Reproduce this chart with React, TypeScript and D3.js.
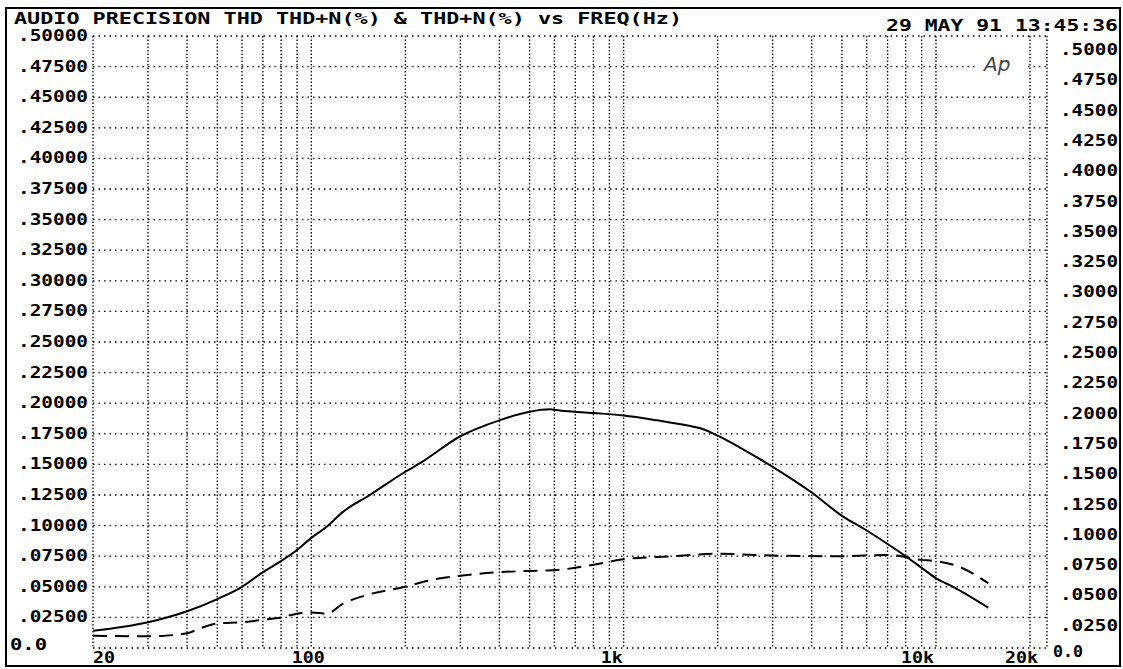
import React from 'react';
import * as d3 from 'd3';

// THD+N (solid)
const thdnFreq = [20, 30, 40, 50, 60, 70, 80, 90, 100, 112, 126, 154, 200, 223, 300, 400, 500, 580, 625, 800, 1000, 1280, 1620, 1760, 2000, 2350, 3000, 4000, 5000, 6000, 7000, 8000, 9000, 10000, 11350, 14700];
const thdnVals = [0.014, 0.021, 0.030, 0.040, 0.050, 0.062, 0.071, 0.080, 0.090, 0.099, 0.111, 0.125, 0.144, 0.151, 0.173, 0.186, 0.193, 0.195, 0.194, 0.192, 0.190, 0.186, 0.1815, 0.1795, 0.1735, 0.164, 0.148, 0.127, 0.108, 0.096, 0.085, 0.075, 0.0655, 0.057, 0.050, 0.033];

// THD (dashed)
const thdFreq = [20, 30, 40, 44, 50, 60, 70, 80, 90, 100, 112, 126, 154, 200, 236, 300, 400, 500, 625, 800, 1000, 1440, 2000, 3000, 5000, 7000, 9000, 10000, 11700, 14700];
const thdVals = [0.010, 0.0095, 0.012, 0.016, 0.020, 0.021, 0.023, 0.025, 0.028, 0.029, 0.028, 0.036, 0.044, 0.050, 0.055, 0.059, 0.062, 0.063, 0.064, 0.068, 0.0725, 0.075, 0.077, 0.0755, 0.075, 0.076, 0.072, 0.071, 0.067, 0.053];

const xTickFreqs = [20, 100, 1000, 10000, 20000];
const xTickLabels = ['20', '100', '1k', '10k', '20k'];
const gridFreqs = [20, 30, 40, 50, 60, 70, 80, 90, 100, 200, 300, 400, 500, 600, 700, 800, 900, 1000, 2000, 3000, 4000, 5000, 6000, 7000, 8000, 9000, 10000, 20000];
const yTicks = d3.range(0, 21).map(i => i * 0.025);

const titleText = 'AUDIO PRECISION THD THD+N(%) & THD+N(%) vs FREQ(Hz)';
const dateText = '29 MAY 91 13:45:36';

const W = 1123;
const H = 669;
const FONT = '"DejaVu Sans Mono", "Liberation Mono", monospace';

export default function App() {
  const x = d3.scaleLog().domain([20, 20000]).range([93, 1030]);
  const y = d3.scaleLinear().domain([0, 0.5]).range([648, 36]);
  // right-hand labels sit a little lower (the scan is slightly skewed)
  const yRight = d3.scaleLinear().domain([0, 0.5]).range([650, 44]);
  const plotLeft = 93;
  const plotRight = 1047;

  const line = d3.line<[number, number]>()
    .x(d => x(d[0]))
    .y(d => y(d[1]))
    .curve(d3.curveMonotoneX);

  const thdnPath = line(thdnFreq.map((f, i) => [f, thdnVals[i]]) as [number, number][]);
  const thdPath = line(thdFreq.map((f, i) => [f, thdVals[i]]) as [number, number][]);

  const leftLabel = (v: number) => (v === 0 ? '0.0' : '.' + v.toFixed(5).slice(2));
  const rightLabel = (v: number) => (v === 0 ? '0.0' : '.' + v.toFixed(4).slice(2));

  // label placement for the frequency axis
  const xLabelPos = (i: number) => {
    const px = x(xTickFreqs[i]);
    if (i === 0) return { px, anchor: 'start' };
    if (i === 1) return { px: px - 3, anchor: 'middle' };
    if (i === 2) return { px: px - 1, anchor: 'end' };
    if (i === 3) return { px: px - 2, anchor: 'end' };
    return { px: px + 8, anchor: 'end' };
  };

  return (
    <svg
      width={W}
      height={H}
      style={{ position: 'fixed', left: 0, top: 0, background: '#fff', display: 'block' }}
    >
      <rect x={0} y={0} width={W} height={H} fill="#fff" />

      {/* outer frame */}
      <rect x={6} y={8} width={1114} height={658} fill="none" stroke="#000" strokeWidth={2} />

      {/* horizontal grid */}
      {yTicks.map(v => (
        <line
          key={'h' + v}
          x1={plotLeft}
          x2={plotRight}
          y1={y(v)}
          y2={y(v)}
          stroke="#000"
          strokeWidth={1.3}
          strokeDasharray="1.5 4"
        />
      ))}

      {/* vertical grid */}
      {gridFreqs.map(f => (
        <line
          key={'v' + f}
          x1={x(f)}
          x2={x(f)}
          y1={y(0.5)}
          y2={y(0)}
          stroke="#000"
          strokeWidth={1.3}
          strokeDasharray="1.5 2"
        />
      ))}
      <line x1={plotRight} x2={plotRight} y1={y(0.5)} y2={y(0)} stroke="#000" strokeWidth={1.3} strokeDasharray="1.5 2" />

      {/* Ap logo */}
      <rect x={976} y={48} width={50} height={28} fill="#fff" />
      <text
        x={984}
        y={71}
        fontFamily='"DejaVu Sans", sans-serif'
        fontStyle="italic"
        fontWeight={300}
        fontSize={20}
        fill="#444"
      >
        Ap
      </text>

      {/* curves */}
      <path d={thdPath || ''} fill="none" stroke="#000" strokeWidth={2} strokeDasharray="14 8" />
      <path d={thdnPath || ''} fill="none" stroke="#000" strokeWidth={2} />

      {/* title and date */}
      <text
        x={14}
        y={19}
        dominantBaseline="central"
        fontFamily={FONT}
        fontWeight="bold"
        fontSize={15}
        textLength={668}
        lengthAdjust="spacingAndGlyphs"
      >
        {titleText}
      </text>
      <text
        x={1118}
        y={26}
        dominantBaseline="central"
        textAnchor="end"
        fontFamily={FONT}
        fontWeight="bold"
        fontSize={15}
        textLength={232}
        lengthAdjust="spacingAndGlyphs"
      >
        {dateText}
      </text>

      {/* left axis labels */}
      {yTicks.map(v => (
        v === 0 ? (
          <text key={'l' + v} x={10} y={y(v) - 3} dominantBaseline="central" fontFamily={FONT} fontWeight="bold" fontSize={15} textLength={37} lengthAdjust="spacingAndGlyphs">
            {leftLabel(v)}
          </text>
        ) : (
          <text key={'l' + v} x={88} y={y(v)} dominantBaseline="central" textAnchor="end" fontFamily={FONT} fontWeight="bold" fontSize={15} textLength={70} lengthAdjust="spacingAndGlyphs">
            {leftLabel(v)}
          </text>
        )
      ))}

      {/* right axis labels */}
      {yTicks.map(v => (
        v === 0 ? (
          <text key={'r' + v} x={1053} y={yRight(v) + 2} dominantBaseline="central" fontFamily={FONT} fontWeight="bold" fontSize={15} textLength={30} lengthAdjust="spacingAndGlyphs">
            {rightLabel(v)}
          </text>
        ) : (
          <text key={'r' + v} x={1060} y={yRight(v) + 6} dominantBaseline="central" fontFamily={FONT} fontWeight="bold" fontSize={15} textLength={58} lengthAdjust="spacingAndGlyphs">
            {rightLabel(v)}
          </text>
        )
      ))}

      {/* frequency labels */}
      {xTickLabels.map((t, i) => {
        const p = xLabelPos(i);
        return (
          <text
            key={'x' + t}
            x={p.px}
            y={658}
            dominantBaseline="central"
            textAnchor={p.anchor}
            fontFamily={FONT}
            fontWeight="bold"
            fontSize={15}
            textLength={t.length * 11}
            lengthAdjust="spacingAndGlyphs"
          >
            {t}
          </text>
        );
      })}
    </svg>
  );
}
